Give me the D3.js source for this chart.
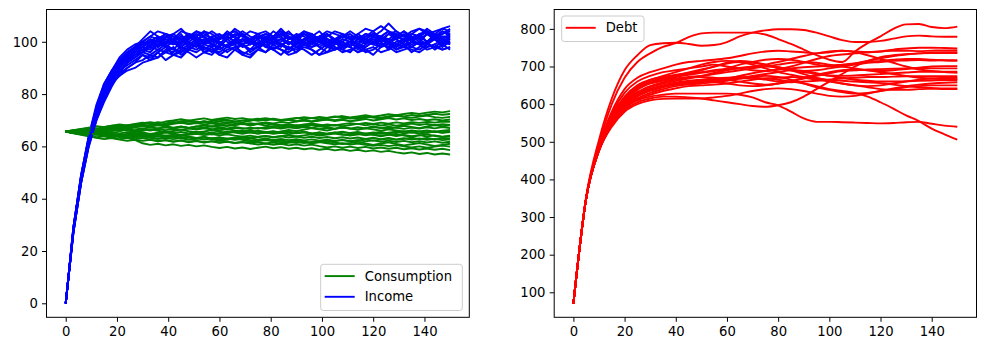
<!DOCTYPE html>
<html lang="en">
<head>
<meta charset="UTF-8">
<title>Consumption, Income and Debt paths</title>
<script src="https://cdn.jsdelivr.net/npm/d3@7"></script>
<style>
  body { margin: 0; background: #fff; }
  svg text { font-family: "DejaVu Sans", sans-serif; fill: #000; }
</style>
</head>
<body>
<div id="chart"></div>
<script>
// time grid for consumption / income (every 3 periods) and debt (every 5 periods)
const stepsCY = d3.range(0, 151, 3);
const stepsDebt = d3.range(0, 151, 5);

// income paths
const income = [
  [0,29,49,63,75,83,89,93,96,98, 99,101,100,102,103,101,102,104,103,101, 102,103,104,102,101,103,104,102,103,101, 102,103,101,102,104,103,102,101,103,105, 104,106,104,103,102,104,105,103,104,105, 104],
  [0,27,46,60,70,78,84,87,90,92, 93,95,94,96,95,97,96,94,96,97, 95,97,98,96,95,97,96,98,97,95, 96,98,97,95,96,97,99,98,96,97, 98,96,97,99,98,97,96,98,99,97, 98],
  [0,28,48,62,73,81,87,91,94,96, 98,97,100,99,101,98,100,102,99,101, 100,98,101,103,100,99,101,100,98,101, 102,100,99,101,103,100,98,100,102,99, 101,100,103,101,99,100,102,104,101,100, 102],
  [0,28,47,62,74,82,88,92,95,97, 99,100,102,101,99,100,103,101,102,100, 101,103,102,100,101,102,100,101,103,102, 100,101,102,100,101,99,100,102,101,103, 102,104,107,104,102,101,103,104,102,103, 104],
  [0,28,47,61,71,79,85,87,89,90, 92,93,94,97,96,98,97,99,98,96, 99,98,100,99,97,98,100,99,101,100, 98,100,99,101,100,98,97,99,101,100, 99,101,100,98,100,101,99,100,102,101, 100],
  [0,29,49,64,76,84,89,94,97,99, 100,102,104,103,101,104,103,102,104,103, 101,103,104,102,104,103,101,102,104,103, 102,104,103,101,102,104,103,102,101,103, 102,101,103,104,102,103,105,104,102,103, 105],
  [0,28,48,62,72,80,86,90,93,95, 97,96,99,98,100,97,99,98,100,99, 97,99,100,98,99,101,98,100,99,97, 99,100,98,99,101,100,98,99,100,101, 99,98,100,101,99,98,100,99,101,99, 100],
  [0,28,48,63,74,82,88,92,95,97, 99,101,98,102,100,103,99,101,100,102, 99,102,100,103,101,99,102,100,101,99, 102,100,103,101,99,101,100,98,101,100, 102,100,101,103,100,102,101,99,102,100, 101],
  [0,27,46,61,71,79,85,89,91,93, 95,94,96,93,95,96,98,97,99,98, 100,98,99,101,100,98,99,97,99,100, 98,99,101,100,99,97,98,100,99,98, 100,99,98,100,101,99,100,98,99,101, 99],
  [0,29,48,63,75,83,88,92,95,98, 100,99,101,103,102,100,101,103,102,104, 102,101,103,102,100,102,103,101,102,104, 101,103,102,104,101,100,102,103,101,102, 103,102,100,102,104,102,101,103,102,104, 103],
  [0,28,47,61,72,80,86,89,92,94, 96,98,97,99,97,96,98,100,97,99, 98,96,98,99,97,100,98,97,99,98, 97,99,98,100,98,97,99,98,96,98, 100,98,99,97,98,100,99,97,98,100, 99],
  [0,28,48,62,73,81,87,91,94,96, 98,100,99,101,100,102,100,99,101,100, 102,100,99,101,100,102,101,99,100,102, 100,99,101,102,100,101,99,100,102,101, 103,101,100,102,101,103,102,100,103,105, 106],
  [0,27,47,61,72,80,85,89,92,94, 96,95,97,96,98,95,97,96,98,97, 96,98,97,95,97,98,96,99,97,96, 98,97,95,97,99,98,96,97,98,96, 97,99,98,96,97,98,97,99,98,97, 98],
  [0,29,49,64,75,84,89,93,96,98, 100,102,101,103,102,101,103,102,100,102, 103,101,102,104,102,101,103,102,104,101, 103,102,100,102,103,101,102,104,102,101, 103,102,104,102,101,103,102,104,103,102, 102],
  [0,28,48,62,73,81,86,91,93,96, 97,99,98,100,99,101,98,100,99,101, 100,98,101,99,100,98,100,101,99,100, 99,101,100,98,100,99,101,100,98,100, 101,99,100,98,100,101,99,100,101,99, 101],
  [0,28,48,63,74,82,87,91,94,97, 98,100,102,100,101,99,102,100,101,99, 101,102,100,101,99,101,102,100,101,102, 101,99,100,102,101,100,102,101,99,101, 100,102,101,99,101,102,100,103,101,102, 101],
  [0,28,47,62,72,80,86,88,92,95, 96,99,101,98,97,100,102,101,96,95, 98,101,99,95,94,97,100,102,99,97, 100,103,101,98,96,99,101,100,97,99, 102,100,97,99,101,98,100,103,101,98, 100],
  [0,29,48,63,74,81,87,92,95,98, 101,104,102,99,103,105,102,100,104,101, 99,102,105,103,100,98,101,104,102,99, 101,104,102,100,103,101,98,100,103,101, 99,102,104,101,103,100,102,105,103,101, 103],
  [0,27,46,60,70,77,83,88,90,92, 95,93,96,98,95,94,97,99,96,98, 95,94,97,99,96,98,100,97,95,98, 96,99,97,95,98,100,97,96,99,97, 95,98,100,97,99,96,98,100,97,99, 97],
  [0,28,48,62,73,81,88,92,94,97, 100,98,101,103,100,98,101,104,102,99, 101,104,102,99,101,103,100,102,105,102, 99,101,103,100,98,101,103,101,99,102, 104,101,99,102,104,101,103,100,102,104, 102]
];

// consumption paths
const consumption = [
  [65.7,65.9,66.3,66.0,66.6,66.9,67.2,66.8,67.5,67.9, 67.6,68.2,68.5,68.1,68.8,69.2,68.7,69.0,69.5,69.1, 69.6,70.0,69.5,69.9,70.3,69.8,70.2,70.6,70.1,70.5, 70.9,70.4,70.8,71.3,70.9,71.2,71.6,71.1,71.5,71.9, 71.4,71.8,72.3,71.9,72.4,72.8,72.4,72.9,73.3,73.0, 73.5],
  [65.7,66.1,66.6,67.0,66.7,67.3,67.8,67.5,68.1,68.4, 68.9,69.3,68.8,69.5,69.9,70.4,69.8,70.3,70.7,70.1, 70.6,71.0,70.5,70.8,70.2,70.6,70.0,70.4,69.8,70.2, 69.6,70.1,69.5,69.9,70.3,69.7,70.2,69.6,70.0,70.5, 69.9,70.4,70.8,70.3,70.7,70.1,70.5,70.0,70.4,69.9, 70.3],
  [65.7,65.5,65.9,65.6,66.1,65.8,66.3,66.0,66.5,66.2, 66.7,66.4,66.9,67.3,66.9,67.4,67.1,67.6,68.0,67.6, 68.1,67.8,68.3,68.7,68.3,68.8,69.2,68.8,69.3,69.0, 69.5,69.9,69.5,70.0,70.4,70.0,70.5,70.9,70.5,71.0, 71.4,71.0,71.5,71.9,71.5,72.0,71.6,72.1,72.5,72.1, 72.4],
  [65.7,66.0,65.8,66.4,66.9,66.5,67.1,67.6,67.2,67.8, 68.3,67.9,68.5,68.1,68.6,69.0,68.5,68.9,68.4,68.8, 68.3,68.7,68.2,68.6,68.0,68.5,68.9,68.4,68.0,68.5, 67.9,68.4,68.8,68.3,67.8,68.2,67.7,68.2,68.6,68.1, 68.5,68.0,68.4,67.9,68.3,68.7,68.2,68.6,68.1,68.5, 68.2],
  [65.7,65.4,65.8,65.5,66.0,65.7,66.2,65.9,66.4,66.0, 66.5,66.1,66.6,66.2,66.7,66.3,66.8,66.4,66.9,66.5, 67.0,66.6,67.1,66.7,67.2,66.8,67.3,67.7,67.3,67.8, 67.4,67.9,68.3,67.9,68.4,68.0,68.5,68.9,68.5,69.0, 68.6,69.1,68.7,69.2,68.8,69.3,69.0,69.4,69.1,69.5, 69.4],
  [65.7,65.3,65.7,65.2,65.6,65.1,65.5,65.0,65.4,64.9, 65.3,64.8,65.2,65.6,65.1,65.5,65.0,65.4,64.9,65.3, 64.8,65.2,65.6,65.1,65.5,64.9,65.3,64.8,65.2,65.6, 65.1,65.5,64.9,65.3,64.8,65.2,65.6,65.1,65.5,64.9, 65.3,64.8,65.2,65.6,65.0,65.4,64.9,65.3,65.7,65.2, 65.5],
  [65.7,65.2,64.8,65.1,64.5,64.1,64.5,63.9,64.3,63.8, 64.2,63.6,64.0,63.5,63.9,63.3,63.7,63.2,63.6,63.0, 63.4,62.9,63.3,62.7,63.1,62.6,63.0,62.5,62.9,62.4, 62.8,62.3,62.7,62.2,62.6,62.1,62.5,62.0,62.4,61.9, 62.3,61.8,62.2,61.7,62.1,61.6,62.0,61.5,61.9,61.4, 61.8],
  [65.7,65.0,64.4,63.9,63.3,62.8,63.2,62.6,62.1,62.5, 61.2,60.6,61.0,60.4,60.8,60.2,60.6,60.0,60.4,59.8, 59.4,59.8,59.2,59.6,59.0,59.5,59.9,59.3,59.7,59.1, 59.5,58.9,59.3,58.7,59.1,58.5,58.9,58.3,58.7,58.1, 58.5,57.9,58.3,57.7,57.3,57.7,57.1,57.5,56.9,57.3, 56.9],
  [65.7,65.4,65.0,65.3,64.8,64.4,64.8,64.3,63.9,64.3, 63.8,64.2,63.7,64.1,63.6,63.2,63.6,63.1,63.5,63.0, 62.6,63.0,62.5,62.9,62.4,62.0,62.4,61.9,62.3,61.8, 61.4,61.8,61.3,61.7,61.2,60.8,61.2,60.7,61.1,60.6, 60.2,60.6,60.1,60.5,60.0,59.6,60.0,59.5,59.9,60.3, 59.9],
  [65.7,66.1,65.8,66.3,66.8,66.4,67.0,67.5,67.1,67.6, 68.0,67.6,68.1,67.7,67.2,67.6,67.1,66.7,67.1,66.6, 66.2,66.6,66.1,65.7,66.1,65.6,65.2,65.6,65.1,65.5, 65.0,65.4,64.9,65.3,64.8,65.2,64.7,64.3,64.7,64.2, 64.6,64.1,64.5,64.0,64.4,63.9,64.3,63.8,64.2,63.7, 64.1],
  [65.7,65.3,64.9,64.4,64.8,64.3,63.9,64.3,63.8,63.4, 63.8,63.3,62.9,63.3,62.8,63.2,62.7,63.1,62.6,63.0, 63.4,62.9,63.3,63.7,63.2,63.6,64.0,63.5,63.9,64.3, 63.8,64.2,64.6,64.1,64.5,64.9,64.4,64.8,65.2,64.7, 65.1,65.5,65.0,65.4,65.8,65.3,65.7,66.1,65.6,66.0, 66.3],
  [65.7,65.1,64.6,64.0,63.5,63.9,63.3,62.8,63.2,62.6, 62.1,62.5,61.9,62.3,61.8,62.2,61.6,62.0,61.5,61.9, 61.4,61.8,61.3,61.7,61.2,61.6,61.1,61.5,61.0,61.4, 61.8,61.3,61.7,62.1,61.6,62.0,62.4,61.9,62.3,62.7, 62.2,62.6,63.0,62.5,62.9,63.3,62.8,63.2,62.7,63.1, 63.0],
  [65.7,66.0,66.4,66.1,66.6,67.0,66.6,67.1,66.7,67.2, 66.8,67.3,66.9,67.4,67.0,67.5,67.1,67.6,67.2,67.7, 67.3,66.9,67.4,67.0,66.6,67.1,66.7,67.2,66.8,67.3, 66.9,67.4,67.0,66.6,67.1,66.7,67.2,66.8,67.3,66.9, 67.4,67.0,67.5,67.1,66.7,67.2,66.8,67.3,66.9,67.4, 67.0],
  [65.7,65.4,65.8,65.3,64.9,65.3,64.8,64.4,64.8,64.3, 64.7,64.2,64.6,64.1,64.5,64.0,64.4,64.8,64.3,64.7, 64.2,64.6,64.1,63.7,64.1,63.6,64.0,63.5,63.9,63.4, 63.8,63.3,63.7,63.2,63.6,63.1,63.5,63.0,63.4,62.9, 63.3,62.8,63.2,62.7,63.1,62.6,63.0,62.5,62.9,62.4, 62.7],
  [65.7,65.2,64.7,64.2,64.6,64.0,63.5,63.9,63.3,62.8, 63.2,62.6,62.1,62.5,61.9,62.3,61.8,62.2,61.6,62.0, 61.5,61.9,61.3,61.7,61.2,60.7,61.1,60.6,61.0,60.4, 60.8,60.3,60.7,60.1,59.6,60.0,59.5,59.9,59.4,59.8, 59.2,59.6,59.1,59.5,58.9,59.3,58.8,59.2,58.7,59.1, 58.6],
  [65.7,66.2,66.7,67.2,67.7,67.3,67.9,68.4,68.0,68.6, 69.1,68.7,69.3,68.8,69.4,69.0,69.5,69.1,69.6,69.2, 68.8,69.3,68.9,68.4,68.9,68.5,68.0,68.5,68.1,67.6, 68.1,67.7,67.2,67.7,67.3,66.8,67.3,66.9,66.4,66.9, 66.5,66.0,66.5,66.1,65.6,66.1,65.7,65.2,65.7,65.3, 65.8],
  [65.7,65.8,66.4,66.9,66.6,67.4,67.9,68.0,67.5,67.8, 68.6,68.9,68.4,68.2,68.9,69.6,69.9,69.4,69.1,69.7, 70.3,70.1,69.5,69.2,69.8,70.4,70.8,70.3,69.9,70.2, 70.7,71.2,70.8,70.4,70.9,71.5,71.1,70.6,71.0,71.4, 71.0,70.6,71.1,71.7,71.3,70.9,71.4,71.8,71.2,70.9, 71.3],
  [65.7,65.1,64.9,64.2,64.6,64.9,64.3,63.6,63.9,64.4, 64.1,63.4,62.9,63.5,63.9,63.2,62.6,62.9,63.5,62.8, 62.1,62.6,63.1,62.5,61.8,62.2,62.8,62.3,61.6,61.9, 62.4,61.8,61.2,61.7,62.2,61.5,60.9,61.3,61.8,61.1, 60.6,61.1,61.6,60.9,60.4,60.8,61.3,60.7,60.2,60.6, 61.0],
  [65.7,65.9,65.4,65.9,66.3,65.8,66.2,66.7,66.1,65.6, 66.0,66.5,66.0,65.4,65.9,66.4,65.8,65.3,65.7,66.2, 65.6,65.1,65.6,66.0,65.3,64.9,65.4,65.8,65.2,64.7, 65.1,65.6,65.0,64.5,64.9,65.3,64.6,64.1,64.6,65.0, 64.4,63.9,64.4,64.8,64.1,63.7,64.2,64.6,64.0,63.6, 63.9],
  [65.7,65.3,65.6,65.0,64.6,65.1,64.7,64.2,64.7,65.2, 64.8,64.3,64.8,65.3,64.9,64.4,64.9,65.5,65.1,64.6, 65.1,65.7,65.3,64.8,65.4,66.0,65.5,65.1,65.7,66.3, 65.8,66.4,67.0,66.5,66.1,66.7,67.3,66.8,66.4,67.0, 67.6,67.1,66.7,67.3,67.9,67.4,67.0,67.6,68.2,67.7, 68.1]
];

// debt paths (every 5 periods)
const debt = [
  [70,355,505,615,690,730,757,762,763,760,755,757,765,780,790,796,799,799,797,790,780,770,765,765,768,774,780,782,780,779,779],
  [70,352,495,600,670,712,735,752,762,778,788,790,790,790,790,785,773,760,745,730,718,712,740,762,780,800,812,813,805,802,806],
  [70,350,490,580,640,670,685,695,705,712,715,718,722,728,735,740,742,740,738,735,738,742,740,738,740,745,748,750,750,749,748],
  [70,350,488,575,630,660,675,685,690,695,700,705,700,695,690,688,692,700,710,720,728,732,735,738,740,742,742,741,742,743,743],
  [70,350,485,570,620,650,665,672,678,682,685,690,695,705,712,718,720,718,712,705,700,702,708,715,722,728,732,735,736,736,736],
  [70,350,485,565,615,645,660,668,675,680,690,700,710,715,712,705,695,690,688,690,695,700,705,710,712,715,716,717,716,717,717],
  [70,350,482,560,610,640,655,662,668,672,675,680,685,690,695,700,705,710,712,710,705,700,695,690,688,690,693,697,700,701,701],
  [70,350,482,560,605,632,648,658,665,670,672,670,665,660,655,652,655,660,668,675,682,688,690,692,693,694,695,696,695,695,695],
  [70,350,480,555,600,628,645,655,662,668,675,683,690,695,698,700,698,692,685,680,676,675,676,678,680,682,684,686,686,686,686],
  [70,350,480,555,598,625,640,650,658,662,665,668,670,672,670,665,660,658,660,662,665,668,670,672,672,673,674,674,674,674,674],
  [70,350,478,550,595,620,635,645,652,658,662,665,668,670,675,680,685,690,688,682,675,670,665,662,660,660,661,662,663,664,664],
  [70,350,478,550,592,615,630,640,648,652,655,658,662,668,672,675,672,665,655,645,638,632,628,630,635,640,645,648,650,650,650],
  [70,350,476,545,588,612,625,635,642,648,650,652,655,660,665,668,670,672,670,665,660,655,650,645,640,638,638,640,641,642,642],
  [70,350,478,548,590,610,620,625,628,628,628,628,628,625,618,605,597,580,562,553,553,552,551,550,549,550,552,553,548,543,540],
  [70,350,480,555,600,625,640,650,655,658,660,662,665,668,670,668,665,660,655,648,640,635,630,620,605,588,570,555,535,520,506],
  [70,350,476,545,585,605,615,620,620,618,615,610,605,600,595,593,597,605,620,640,660,680,700,715,725,730,733,735,737,738,738],
  [70,350,475,540,580,600,610,614,615,615,615,618,622,628,635,640,642,640,635,628,622,620,622,628,635,642,648,652,655,657,658],
  [70,350,482,560,608,638,655,665,672,678,683,688,692,696,700,705,712,720,728,735,740,742,738,730,720,710,700,692,688,685,683],
  [70,350,484,565,612,642,658,668,676,684,692,700,708,712,710,705,698,690,680,670,662,655,650,648,650,655,660,665,668,670,670],
  [70,350,478,552,596,622,638,648,655,660,662,660,655,650,648,650,655,662,670,678,685,690,692,690,685,680,675,670,668,667,667],
  [70,350,486,568,618,648,664,675,685,695,705,712,715,712,705,695,685,678,672,668,665,662,660,658,656,652,648,645,643,640,640],
  [70,350,480,556,600,626,640,648,652,655,658,662,668,675,682,688,692,695,698,700,702,705,708,712,715,718,720,720,718,716,715]
];

const xTicks = [0, 20, 40, 60, 80, 100, 120, 140];
const leftYTicks = [0, 20, 40, 60, 80, 100];
const rightYTicks = [100, 200, 300, 400, 500, 600, 700, 800];

const width = 986, height = 351;
const axTop = 9.5, axBottom = 317.3;
const fontSize = 13.2;
const lw = 1.9;

const svg = d3.select("#chart").append("svg")
  .attr("width", width).attr("height", height);

// left panel scales
const xL = d3.scaleLinear().domain([-7.5, 157.5]).range([46.5, 469.3]);
const yL = d3.scaleLinear().domain([-5.35, 112.35]).range([axBottom, axTop]);
// right panel scales
const xR = d3.scaleLinear().domain([-7.5, 157.5]).range([554.2, 976.5]);
const yR = d3.scaleLinear().domain([33.6, 851.5]).range([axBottom, axTop]);

function drawAxes(x, y, yTicks) {
  const g = svg.append("g");
  const xAxis = g.append("g")
    .attr("transform", `translate(0,${axBottom})`)
    .call(d3.axisBottom(x).tickValues(xTicks).tickSize(4.5).tickPadding(4.2).tickSizeOuter(0));
  const yAxis = g.append("g")
    .attr("transform", `translate(${x.range()[0]},0)`)
    .call(d3.axisLeft(y).tickValues(yTicks).tickSize(4.5).tickPadding(4.2).tickSizeOuter(0));
  [xAxis, yAxis].forEach(a => {
    a.select(".domain").remove();
    a.selectAll(".tick line").attr("stroke", "#000").attr("stroke-width", 1);
    a.selectAll(".tick text").attr("font-size", fontSize).attr("font-family", "DejaVu Sans");
  });
  xAxis.selectAll(".tick text").attr("dy", "0.75em");
  return g;
}

function drawFrame(x) {
  svg.append("rect")
    .attr("x", x.range()[0]).attr("y", axTop)
    .attr("width", x.range()[1] - x.range()[0]).attr("height", axBottom - axTop)
    .attr("fill", "none").attr("stroke", "#000").attr("stroke-width", 1);
}

// clip paths so lines stay in the axes box
const defs = svg.append("defs");
[["clipL", xL], ["clipR", xR]].forEach(([id, x]) => {
  defs.append("clipPath").attr("id", id).append("rect")
    .attr("x", x.range()[0]).attr("y", axTop)
    .attr("width", x.range()[1] - x.range()[0]).attr("height", axBottom - axTop);
});

// left panel: consumption and income, one simulation after another
const lineL = d3.line().x(d => xL(d[0])).y(d => yL(d[1]));
const gL = svg.append("g").attr("clip-path", "url(#clipL)");
consumption.forEach((c, i) => {
  gL.append("path")
    .attr("d", lineL(stepsCY.map((t, k) => [t, c[k]])))
    .attr("fill", "none").attr("stroke", "green").attr("stroke-width", lw)
    .attr("stroke-linejoin", "round");
  gL.append("path")
    .attr("d", lineL(stepsCY.map((t, k) => [t, income[i][k]])))
    .attr("fill", "none").attr("stroke", "blue").attr("stroke-width", lw)
    .attr("stroke-linejoin", "round");
});

// right panel: debt
const lineR = d3.line().x(d => xR(d[0])).y(d => yR(d[1])).curve(d3.curveMonotoneX);
const gR = svg.append("g").attr("clip-path", "url(#clipR)");
debt.forEach(dp => {
  gR.append("path")
    .attr("d", lineR(stepsDebt.map((t, k) => [t, dp[k]])))
    .attr("fill", "none").attr("stroke", "red").attr("stroke-width", lw);
});

drawAxes(xL, yL, leftYTicks);
drawAxes(xR, yR, rightYTicks);
drawFrame(xL);
drawFrame(xR);

// legends
function legend(x0, y0, w, items) {
  const g = svg.append("g");
  const rowH = 20.7;
  g.append("rect")
    .attr("x", x0).attr("y", y0).attr("width", w).attr("height", rowH * (items.length - 1) + 25.5)
    .attr("rx", 2.6)
    .attr("fill", "rgba(255,255,255,0.8)").attr("stroke", "#cccccc").attr("stroke-width", 1);
  items.forEach(([label, color], i) => {
    const cy = y0 + 11.8 + i * rowH;
    g.append("line")
      .attr("x1", x0 + 4).attr("x2", x0 + 34).attr("y1", cy).attr("y2", cy)
      .attr("stroke", color).attr("stroke-width", lw);
    g.append("text")
      .attr("x", x0 + 44).attr("y", cy).attr("dy", "0.35em")
      .attr("font-size", fontSize).text(label);
  });
}
legend(320.7, 264.3, 141.6, [["Consumption", "green"], ["Income", "blue"]]);
legend(561.7, 16, 82.3, [["Debt", "red"]]);
</script>
</body>
</html>
